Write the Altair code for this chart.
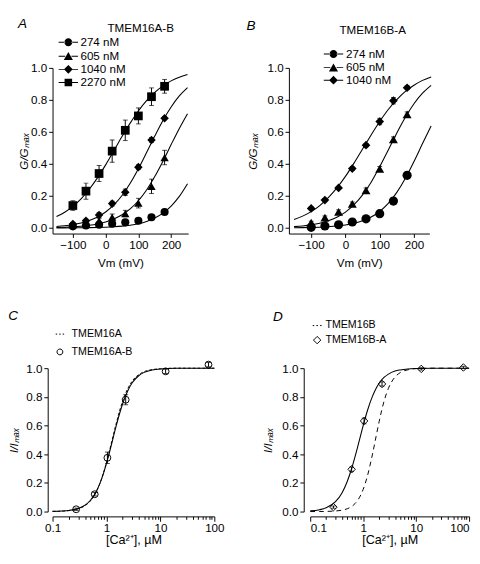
import altair as alt
import pandas as pd

FONT = "Liberation Sans"

# ---------------- Panels A / B : G/Gmax vs Vm ----------------
vm_points = [-100, -60, -20, 20, 60, 100, 140, 180]
vm_ticks = [-100, 0, 100, 200]
frac_ticks = [0.0, 0.2, 0.4, 0.6, 0.8, 1.0]

labels_a = ["274 nM", "605 nM", "1040 nM", "2270 nM"]
a_274 = [0.010, 0.015, 0.020, 0.026, 0.035, 0.045, 0.067, 0.100]
a_605 = [0.020, 0.030, 0.045, 0.067, 0.090, 0.155, 0.260, 0.440]
a_1040 = [0.025, 0.045, 0.081, 0.152, 0.223, 0.380, 0.550, 0.686]
a_2270 = [0.140, 0.230, 0.340, 0.480, 0.610, 0.700, 0.820, 0.885]
a_274_err = [0.005, 0.005, 0.005, 0.005, 0.005, 0.008, 0.010, 0.010]
a_605_err = [0.010, 0.010, 0.015, 0.020, 0.020, 0.030, 0.045, 0.045]
a_1040_err = [0.010, 0.010, 0.015, 0.015, 0.020, 0.015, 0.015, 0.010]
a_2270_err = [0.030, 0.050, 0.050, 0.070, 0.064, 0.050, 0.055, 0.043]

labels_b = ["274 nM", "605 nM", "1040 nM"]
b_274 = [0.004, 0.012, 0.020, 0.037, 0.057, 0.089, 0.168, 0.329]
b_605 = [0.034, 0.065, 0.101, 0.150, 0.235, 0.369, 0.554, 0.710]
b_1040 = [0.122, 0.174, 0.250, 0.371, 0.517, 0.665, 0.795, 0.876]
b_274_err = [0.004, 0.004, 0.005, 0.006, 0.008, 0.010, 0.015, 0.020]
b_605_err = [0.008, 0.010, 0.012, 0.012, 0.015, 0.015, 0.015, 0.015]
b_1040_err = [0.010, 0.010, 0.010, 0.010, 0.010, 0.020, 0.020, 0.012]

# fitted curves
vm_fit = [-150, -125, -100, -75, -50, -25, 0, 25, 50, 75, 100, 125, 150, 175, 200, 225, 250]
a_fit_274 = [0.0003, 0.0005, 0.0008, 0.0013, 0.0020, 0.0031, 0.0047, 0.0073, 0.0113, 0.0174,
             0.0267, 0.0408, 0.0618, 0.0927, 0.1368, 0.197, 0.276]
a_fit_605 = [0.0032, 0.0048, 0.0073, 0.011, 0.0166, 0.0249, 0.0374, 0.0556, 0.082, 0.119,
             0.170, 0.237, 0.321, 0.417, 0.521, 0.622, 0.714]
a_fit_1040 = [0.009, 0.0136, 0.0205, 0.0308, 0.0459, 0.068, 0.0997, 0.144, 0.203, 0.279,
              0.370, 0.471, 0.574, 0.672, 0.756, 0.825, 0.877]
a_fit_2270 = [0.071, 0.0985, 0.135, 0.182, 0.242, 0.313, 0.394, 0.482, 0.571, 0.655,
              0.731, 0.795, 0.847, 0.888, 0.919, 0.942, 0.959]
b_fit_274 = [0.0012, 0.0019, 0.003, 0.0048, 0.0075, 0.0117, 0.0183, 0.0286, 0.0442, 0.068,
             0.103, 0.153, 0.222, 0.31, 0.415, 0.527, 0.637]
b_fit_605 = [0.0083, 0.0126, 0.0192, 0.0293, 0.0444, 0.0668, 0.099, 0.145, 0.207, 0.286,
             0.382, 0.487, 0.594, 0.692, 0.776, 0.842, 0.891]
b_fit_1040 = [0.0529, 0.0739, 0.102, 0.140, 0.189, 0.25, 0.322, 0.405, 0.493, 0.581,
              0.665, 0.740, 0.802, 0.853, 0.892, 0.922, 0.944]

# ---------------- Panels C / D : I/Imax vs [Ca2+] ----------------
ca_points = [0.274, 0.605, 1.04, 2.27, 12.5, 78]
c_pts = [0.016, 0.121, 0.375, 0.780, 0.978, 1.025]
c_err = [0.008, 0.012, 0.040, 0.035, 0.015, 0.015]
d_pts = [0.031, 0.295, 0.632, 0.890, 0.995, 1.005]
d_err = [0.008, 0.015, 0.020, 0.015, 0.008, 0.008]

ca_fit = [0.1, 0.15, 0.2, 0.3, 0.4, 0.5, 0.6, 0.7, 0.8, 1.0, 1.2, 1.5, 1.75, 2, 2.5, 3, 4, 5, 7, 10, 20, 50, 100]
c_fit = [0.0013, 0.0036, 0.0076, 0.0216, 0.0446, 0.077, 0.118, 0.167, 0.221, 0.336, 0.448, 0.592,
         0.684, 0.754, 0.845, 0.898, 0.949, 0.971, 0.988, 0.995, 0.999, 1.0, 1.0]
c_ref = [0.0010, 0.0030, 0.0066, 0.019, 0.041, 0.073, 0.115, 0.166, 0.222, 0.343, 0.460, 0.608,
         0.702, 0.772, 0.860, 0.910, 0.956, 0.976, 0.990, 0.996, 1.0, 1.0, 1.0]
d_fit = [0.0047, 0.0129, 0.0262, 0.069, 0.132, 0.21, 0.295, 0.381, 0.462, 0.600, 0.703, 0.805,
         0.859, 0.895, 0.937, 0.959, 0.980, 0.988, 0.995, 0.998, 1.0, 1.0, 1.0]
d_ref = [0.0001, 0.0004, 0.0011, 0.0039, 0.0097, 0.0195, 0.0345, 0.0553, 0.0823, 0.155, 0.247, 0.401,
         0.523, 0.627, 0.775, 0.86, 0.939, 0.969, 0.989, 0.997, 1.0, 1.0, 1.0]

log_ticks = sorted({round(m * d, 6) for d in [0.1, 1, 10] for m in range(1, 10)} | {100})

# legend symbols: connecting line (thin filled bars) + marker (custom SVG paths)
_bars = "M-2.45,-0.12H-0.8V0.12H-2.45ZM0.8,-0.12H2.45V0.12H0.8Z"
leg_paths_gv = [
    _bars + "M-1,0A1,1,0,1,0,1,0A1,1,0,1,0,-1,0Z",
    _bars + "M0,-1.05L1.15,0.95L-1.15,0.95Z",
    _bars + "M0,-1.1L1.1,0L0,1.1L-1.1,0Z",
    _bars + "M-0.95,-0.95H0.95V0.95H-0.95Z",
]
dotted_path = "M-1.45,0H-0.95M-0.25,0H0.25M0.95,0H1.45"
open_circle_path = "M-1,0A1,1,0,1,0,1,0A1,1,0,1,0,-1,0Z"
open_diamond_path = "M0,-1.2L1.2,0L0,1.2L-1.2,0Z"


def gv_frames(series, errs, labels, fits):
    rows, frows = [], []
    for lab, vals, es in zip(labels, series, errs):
        for v, g, e in zip(vm_points, vals, es):
            rows.append({"vm": v, "g": g, "lo": g - e, "hi": g + e, "conc": lab})
    for lab, vals in zip(labels, fits):
        for v, g in zip(vm_fit, vals):
            frows.append({"vm": v, "g": g, "conc": lab})
    return pd.DataFrame(rows), pd.DataFrame(frows)


def gv_panel(pts, fit, labels, shapes, sizes, xdom, width, lx, ly, loff, rowpad, title, tdx, toff, ypad):
    X = alt.X("vm:Q", scale=alt.Scale(domain=xdom, nice=False, zero=False),
              axis=alt.Axis(values=vm_ticks, title="Vm (mV)", titlePadding=8))

    def Y(field):
        return alt.Y(f"{field}:Q", scale=alt.Scale(domain=[-0.035, 1.0], nice=False, zero=False),
                     axis=alt.Axis(values=frac_ticks, format=".1f", title="G/Gₘₐₓ",
                                   titleFontStyle="italic", titlePadding=ypad))

    line = alt.Chart(fit).mark_line(color="black", strokeWidth=1.1, interpolate="monotone").encode(
        X, Y("g"), detail="conc:N")
    rule = alt.Chart(pts).mark_rule(color="black", strokeWidth=1).encode(X, Y("lo"), y2="hi:Q")
    caps = alt.Chart(pts).transform_fold(["lo", "hi"], as_=["end", "val"]).mark_tick(
        color="black", orient="horizontal", size=5, thickness=1).encode(X, Y("val"))
    dots = alt.Chart(pts).mark_point(filled=True, color="black", opacity=1).encode(
        X, Y("g"),
        shape=alt.Shape("conc:N", scale=alt.Scale(domain=labels, range=shapes), legend=None),
        size=alt.Size("conc:O", scale=alt.Scale(domain=labels, range=sizes), legend=None))
    key = alt.Chart(pts).transform_filter("false").mark_point(
        filled=True, fill="black", stroke="black", strokeWidth=1, opacity=1, size=67).encode(
        X, Y("g"),
        shape=alt.Shape("conc:N", scale=alt.Scale(domain=labels, range=leg_paths_gv[:len(labels)]),
                        legend=alt.Legend(
                            title=None, orient="none", legendX=lx, legendY=ly, padding=0,
                            symbolSize=67, symbolOffset=10, labelOffset=loff, rowPadding=rowpad,
                            symbolFillColor="black", symbolStrokeColor="black",
                            symbolStrokeWidth=1, symbolOpacity=1,
                            labelFont=FONT, labelFontSize=12, labelColor="black")))
    layer = alt.layer(line, rule, caps, dots, key).resolve_scale(
        shape="independent", size="independent").properties(
        width=width, height=171,
        title=alt.TitleParams(title, font=FONT, fontSize=12, fontWeight="normal", color="black",
                              anchor="middle", dx=tdx, offset=toff))
    return layer


def ca_panel(ys, es, solid, dashed, dash, shape, psize, names, paths, width, lx, ly, lsize, loff,
             rowpad, letter, yoff, ypad, letter_dx, letter_dy, flush):
    pts = pd.DataFrame({"c": ca_points, "g": ys,
                        "lo": [y - e for y, e in zip(ys, es)], "hi": [y + e for y, e in zip(ys, es)]})
    fit = pd.DataFrame({"c": ca_fit, "solid": solid, "dashed": dashed})
    keydf = pd.DataFrame({"c": [1.0, 1.0], "g": [0.5, 0.5], "name": names})
    major = "indexof([0.1, 1, 10, 100], datum.value) >= 0"
    X = alt.X("c:Q", scale=alt.Scale(type="log", domain=[0.1, 100], nice=False),
              axis=alt.Axis(values=log_ticks, labelExpr=f"{major} ? datum.value : ''",
                            tickSize={"condition": {"test": major, "value": 5}, "value": 3},
                            labelFlush=flush,
                            offset=5, title="[Ca²⁺], µM", titleFontSize=13, titlePadding=0))

    def Y(field):
        return alt.Y(f"{field}:Q", scale=alt.Scale(domain=[0, 1], nice=False, zero=False),
                     axis=alt.Axis(values=frac_ticks, format=".1f", title="I/Iₘₐₓ",
                                   titleFontStyle="italic", offset=yoff, titlePadding=ypad))

    ref = alt.Chart(fit).mark_line(color="black", strokeWidth=1, strokeDash=dash,
                                   interpolate="monotone").encode(X, Y("dashed"))
    sol = alt.Chart(fit).mark_line(color="black", strokeWidth=1.1,
                                   interpolate="monotone").encode(X, Y("solid"))
    dots = alt.Chart(pts).mark_point(shape=shape, filled=False, color="black", size=psize,
                                     strokeWidth=1, opacity=1).encode(X, Y("g"))
    rule = alt.Chart(pts).mark_rule(color="black", strokeWidth=1).encode(X, Y("lo"), y2="hi:Q")
    caps = alt.Chart(pts).transform_fold(["lo", "hi"], as_=["end", "val"]).mark_tick(
        color="black", orient="horizontal", size=5, thickness=1).encode(X, Y("val"))
    key = alt.Chart(keydf).transform_filter("false").mark_point(
        filled=False, stroke="black", strokeWidth=1, opacity=1, size=lsize).encode(
        X, Y("g"),
        shape=alt.Shape("name:N", scale=alt.Scale(domain=names, range=paths),
                        legend=alt.Legend(
                            title=None, orient="none", legendX=lx, legendY=ly, padding=0,
                            symbolSize=lsize, labelOffset=loff, rowPadding=rowpad,
                            symbolFillColor="transparent", symbolStrokeColor="black",
                            symbolStrokeWidth=1, symbolOpacity=1,
                            labelFont=FONT, labelFontSize=11, labelColor="black")))
    return alt.layer(ref, sol, dots, rule, caps, key).properties(
        width=width, height=148,
        title=alt.TitleParams(letter, font=FONT, fontSize=14, fontStyle="italic", fontWeight="normal",
                              color="black", anchor="start", dx=letter_dx, dy=letter_dy, offset=2))


pts_a, fit_a = gv_frames([a_274, a_605, a_1040, a_2270],
                         [a_274_err, a_605_err, a_1040_err, a_2270_err], labels_a,
                         [a_fit_274, a_fit_605, a_fit_1040, a_fit_2270])
pts_b, fit_b = gv_frames([b_274, b_605, b_1040], [b_274_err, b_605_err, b_1040_err], labels_b,
                         [b_fit_274, b_fit_605, b_fit_1040])

panel_a = gv_panel(pts_a, fit_a, labels_a, ["circle", "triangle-up", "diamond", "square"],
                   [70, 81, 70, 81], [-162, 252], 140, 0.3, -32.5, 6.5, 0.5,
                   "TMEM16A-B", 21, 2, 0)
panel_b = gv_panel(pts_b, fit_b, labels_b, ["circle", "triangle-up", "diamond"],
                   [90, 81, 70], [-165, 245], 145, 30, -20.3, 7, 0.0,
                   "TMEM16B-A", 14, 12, 8)

letter_title = dict(font=FONT, fontSize=14, fontStyle="italic", fontWeight="normal",
                    color="black", anchor="start", offset=-9)
wrap_a = alt.vconcat(panel_a, title=alt.TitleParams("A", **letter_title))
wrap_b = alt.vconcat(panel_b, title=alt.TitleParams("B", **letter_title))

panel_c = ca_panel(c_pts, c_err, c_fit, c_ref, [3, 2], "circle", 50, ["TMEM16A", "TMEM16A-B"],
                   [dotted_path, open_circle_path], 167, 2.1, -40.7, 36, 6.5, 6.4, "C", 5, 5, 0, -4,
                   False)
panel_d = ca_panel(d_pts, d_err, d_fit, d_ref, [5, 4], "diamond", 60, ["TMEM16B", "TMEM16B-A"],
                   [dotted_path, open_diamond_path], 164, 1.65, -49.5, 40, 3, 3, "D", 6.7, 8, 12, 6,
                   True)

top = alt.hconcat(wrap_a, wrap_b, spacing=58).resolve_scale(shape="independent", size="independent")
bottom = alt.hconcat(panel_c, panel_d, spacing=37).resolve_scale(shape="independent", size="independent")

chart = alt.vconcat(top, bottom, spacing=42).resolve_scale(
    shape="independent", size="independent").properties(
    padding={"left": 0, "top": 0, "right": 0, "bottom": 0},
    autosize=alt.AutoSizeParams(type="pad", contains="padding"),
    background="white").configure_view(
    stroke=None).configure_axis(
    labelFont=FONT, titleFont=FONT, labelFontSize=12, titleFontSize=12, titleFontWeight="normal",
    domainColor="black", tickColor="black", labelColor="black", titleColor="black",
    tickSize=4, labelPadding=2, grid=False, domainWidth=1, tickWidth=1)

chart.save("out.html", embed_options={"renderer": "svg", "actions": False})
